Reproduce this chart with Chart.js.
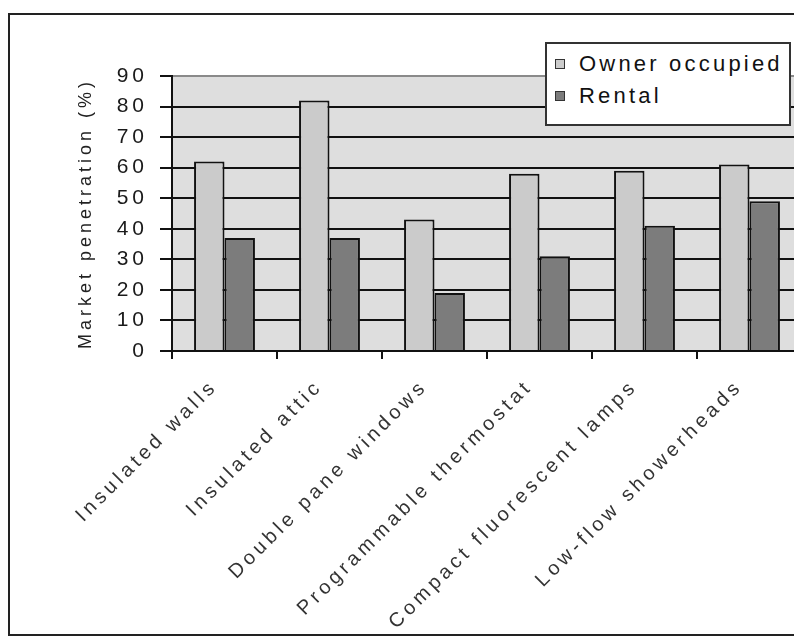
<!DOCTYPE html>
<html>
<head>
<meta charset="utf-8">
<script src="https://cdn.jsdelivr.net/npm/chart.js@4.4.1/dist/chart.umd.min.js"></script>
<style>
  html, body { margin: 0; padding: 0; background: #fff; overflow: hidden; width: 794px; height: 637px; }
  .frame { position: absolute; left: 8px; top: 13px; width: 900px; height: 623px; box-sizing: border-box; border: 2px solid #222; }
  .wrap { position: absolute; left: 0; top: 0; width: 812px; height: 637px; }
  .legend { position: absolute; left: 545px; top: 42px; width: 246px; height: 84px; box-sizing: border-box;
            border: 2px solid #333; background: #fff; font-family: "Liberation Sans", Arial, sans-serif;
            font-size: 22px; line-height: 24px; letter-spacing: 3.2px; color: #111; }
  .legend .item { position: absolute; left: 8px; display: flex; align-items: center; white-space: nowrap; }
  .legend .sw { width: 10px; height: 10px; box-sizing: border-box; border: 1px solid #333; margin-right: 14px; }
</style>
</head>
<body>
<div class="frame"></div>
<div class="wrap"><canvas id="chart" width="812" height="637"></canvas></div>
<div class="legend" id="legend"></div>
<script>
const categories = ['Insulated walls', 'Insulated attic', 'Double pane windows',
  'Programmable thermostat', 'Compact fluorescent lamps', 'Low-flow showerheads'];
const ownerOccupied = [62, 82, 43, 58, 59, 61];
const rental = [37, 37, 19, 31, 41, 49];
const yTicks = [0, 10, 20, 30, 40, 50, 60, 70, 80, 90];

// wide letter spacing like the scanned original; canvas state resets on resize so set it each pass
const spacing = {
  id: 'spacing',
  beforeUpdate(chart) { chart.ctx.letterSpacing = '4px'; },
  beforeDraw(chart) { chart.ctx.letterSpacing = '4px'; }
};

// grey plot area
const plotBg = {
  id: 'plotBg',
  beforeDraw(chart) {
    const { ctx, chartArea: a } = chart;
    ctx.save();
    ctx.fillStyle = '#dedede';
    ctx.fillRect(a.left, a.top, a.right - a.left, a.bottom - a.top);
    ctx.restore();
  }
};

const chart = new Chart(document.getElementById('chart'), {
  type: 'bar',
  data: {
    labels: categories,
    datasets: [{
      label: 'Owner occupied',
      data: ownerOccupied,
      backgroundColor: '#cbcbcb',
      borderColor: '#111',
      borderWidth: 2,
      borderSkipped: 'bottom'
    }, {
      label: 'Rental',
      data: rental,
      backgroundColor: '#7c7c7c',
      borderColor: '#111',
      borderWidth: 2,
      borderSkipped: 'bottom'
    }]
  },
  options: {
    responsive: false,
    animation: false,
    layout: { padding: { left: 0, top: 76, right: 10, bottom: 0 } },
    categoryPercentage: 0.58,
    barPercentage: 1,
    plugins: {
      legend: { display: false },
      tooltip: { enabled: false }
    },
    scales: {
      x: {
        offset: true,
        grid: { offset: true, drawOnChartArea: false, drawTicks: true, tickLength: 8, color: '#111', lineWidth: 2 },
        border: { display: true, color: '#111', width: 2 },
        ticks: {
          autoSkip: false, minRotation: 45, maxRotation: 45, padding: 16, labelOffset: -10,
          color: '#333', font: { family: '"Liberation Sans", Arial, sans-serif', size: 20 }
        },
        afterFit(scale) { scale.height = 286; }
      },
      y: {
        min: 0, max: 90,
        afterBuildTicks(scale) { scale.ticks = yTicks.map(v => ({ value: v })); },
        grid: {
          color: ctx => ctx.tick && ctx.tick.value === 90 ? '#8a8a8a' : '#111',
          tickColor: '#111', lineWidth: 2, tickLength: 12
        },
        border: { display: true, color: '#111', width: 2 },
        ticks: {
          padding: 12, color: '#1a1a1a',
          font: { family: '"Liberation Sans", Arial, sans-serif', size: 21 }
        },
        title: {
          display: true, text: 'Market penetration (%)', color: '#222',
          padding: { top: 75, bottom: 0 },
          font: { family: '"Liberation Sans", Arial, sans-serif', size: 18 }
        },
        afterFit(scale) { scale.width = 172; }
      }
    }
  },
  plugins: [spacing, plotBg]
});

// legend built from the datasets
const legend = document.getElementById('legend');
const rowTops = [8, 40];
chart.data.datasets.forEach((ds, i) => {
  const item = document.createElement('div');
  item.className = 'item';
  item.style.top = rowTops[i] + 'px';
  item.innerHTML = '<span class="sw" style="background:' + ds.backgroundColor + '"></span><span>' + ds.label + '</span>';
  legend.appendChild(item);
});
</script>
</body>
</html>
